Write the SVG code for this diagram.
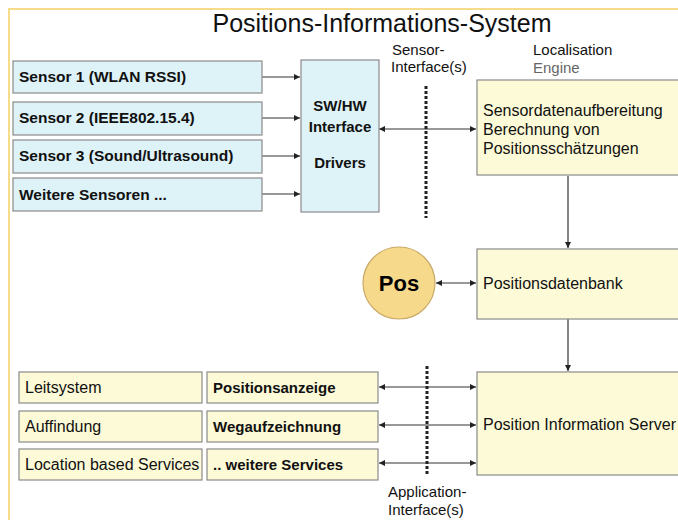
<svg xmlns="http://www.w3.org/2000/svg" width="678" height="522" viewBox="0 0 678 522">
<defs>
<marker id="ah" viewBox="0 0 10 10" refX="10" refY="5" markerWidth="8" markerHeight="6" orient="auto-start-reverse" markerUnits="userSpaceOnUse"><path d="M0,0 L10,5 L0,10 z" fill="#222"/></marker>
</defs>
<style>
text{font-family:"Liberation Sans",Arial,sans-serif;fill:#111}
.t{font-size:15px;font-weight:bold}
.s{font-size:15.5px;font-weight:bold}
.n{font-size:16px}
.h{font-size:15px}
.blue{fill:#def3f7;stroke:#8a8a8a;stroke-width:1.2}
.yel{fill:#fdfad7;stroke:#8a8a8a;stroke-width:1.2}
.ln{stroke:#333;stroke-width:1.2;fill:none}
.dot{stroke:#222;stroke-width:3;stroke-dasharray:3 2;fill:none}
</style>
<rect x="0" y="0" width="678" height="522" fill="#fff"/>
<path d="M9,520 V9 H678" fill="none" stroke="#f6dc8a" stroke-width="2"/>
<text x="382" y="32" font-size="25" text-anchor="middle">Positions-Informations-System</text>
<text class="h" x="392" y="55">Sensor-</text>
<text class="h" x="391" y="72">Interface(s)</text>
<text class="h" x="533" y="55">Localisation</text>
<text class="h" x="533" y="73" style="fill:#666">Engine</text>
<text class="h" x="388" y="497">Application-</text>
<text class="h" x="388" y="515">Interface(s)</text>

<g id="connectors">
<line class="ln" x1="262" y1="77" x2="300" y2="77" marker-end="url(#ah)"/>
<line class="ln" x1="262" y1="118" x2="300" y2="118" marker-end="url(#ah)"/>
<line class="ln" x1="262" y1="156" x2="300" y2="156" marker-end="url(#ah)"/>
<line class="ln" x1="262" y1="194" x2="300" y2="194" marker-end="url(#ah)"/>
<line class="ln" x1="379" y1="129" x2="476" y2="129" marker-start="url(#ah)" marker-end="url(#ah)"/>
<line class="dot" x1="426" y1="86" x2="426" y2="218"/>
<line class="ln" x1="568" y1="176" x2="568" y2="248" marker-end="url(#ah)"/>
<line class="ln" x1="436" y1="283" x2="476" y2="283" marker-start="url(#ah)" marker-end="url(#ah)"/>
<line class="ln" x1="568" y1="319" x2="568" y2="371" marker-end="url(#ah)"/>
<line class="ln" x1="379" y1="387" x2="476" y2="387" marker-start="url(#ah)" marker-end="url(#ah)"/>
<line class="ln" x1="379" y1="425" x2="476" y2="425" marker-start="url(#ah)" marker-end="url(#ah)"/>
<line class="ln" x1="379" y1="463" x2="476" y2="463" marker-start="url(#ah)" marker-end="url(#ah)"/>
<line class="dot" x1="427" y1="366" x2="427" y2="475"/>
</g>

<g id="sensor1"><rect class="blue" x="13" y="61" width="249" height="32"/><text class="s" x="19" y="82">Sensor 1 (WLAN RSSI)</text></g>
<g id="sensor2"><rect class="blue" x="13" y="102" width="249" height="33"/><text class="s" x="19" y="123">Sensor 2 (IEEE802.15.4)</text></g>
<g id="sensor3"><rect class="blue" x="13" y="140" width="249" height="33"/><text class="s" x="19" y="161">Sensor 3 (Sound/Ultrasound)</text></g>
<g id="sensor4"><rect class="blue" x="13" y="178" width="249" height="33"/><text class="s" x="19" y="200">Weitere Sensoren ...</text></g>
<g id="swhw"><rect class="blue" x="301" y="60" width="78" height="152"/>
<text class="t" x="340" y="111" text-anchor="middle">SW/HW</text>
<text class="t" x="340" y="132" text-anchor="middle">Interface</text>
<text class="t" x="340" y="168" text-anchor="middle">Drivers</text></g>
<g id="engine"><rect class="yel" x="477" y="80" width="210" height="95"/>
<text class="n" x="483" y="116">Sensordatenaufbereitung</text>
<text class="n" x="483" y="135">Berechnung von</text>
<text class="n" x="483" y="154">Positionsschätzungen</text></g>
<g id="pos"><circle cx="399" cy="283" r="36" fill="#f7d98c" stroke="#c9aa66" stroke-width="1.2"/>
<text x="399" y="291" font-size="22" font-weight="bold" text-anchor="middle" style="fill:#000">Pos</text></g>
<g id="db"><rect class="yel" x="477" y="249" width="210" height="70"/><text class="n" x="483" y="289">Positionsdatenbank</text></g>
<g id="server"><rect class="yel" x="477" y="372" width="210" height="103"/><text class="n" x="483" y="430">Position Information Server</text></g>
<g id="leit"><rect class="yel" x="19" y="372" width="183" height="31"/><text class="n" x="25" y="393">Leitsystem</text></g>
<g id="auff"><rect class="yel" x="19" y="411" width="183" height="31"/><text class="n" x="25" y="432">Auffindung</text></g>
<g id="lbs"><rect class="yel" x="19" y="449" width="183" height="31"/><text class="n" x="25" y="470">Location based Services</text></g>
<g id="posanz"><rect class="yel" x="207" y="372" width="171" height="31"/><text class="t" x="213" y="393">Positionsanzeige</text></g>
<g id="weg"><rect class="yel" x="207" y="411" width="171" height="31"/><text class="t" x="213" y="432">Wegaufzeichnung</text></g>
<g id="weitere"><rect class="yel" x="207" y="449" width="171" height="31"/><text class="t" x="213" y="470">.. weitere Services</text></g>
</svg>
